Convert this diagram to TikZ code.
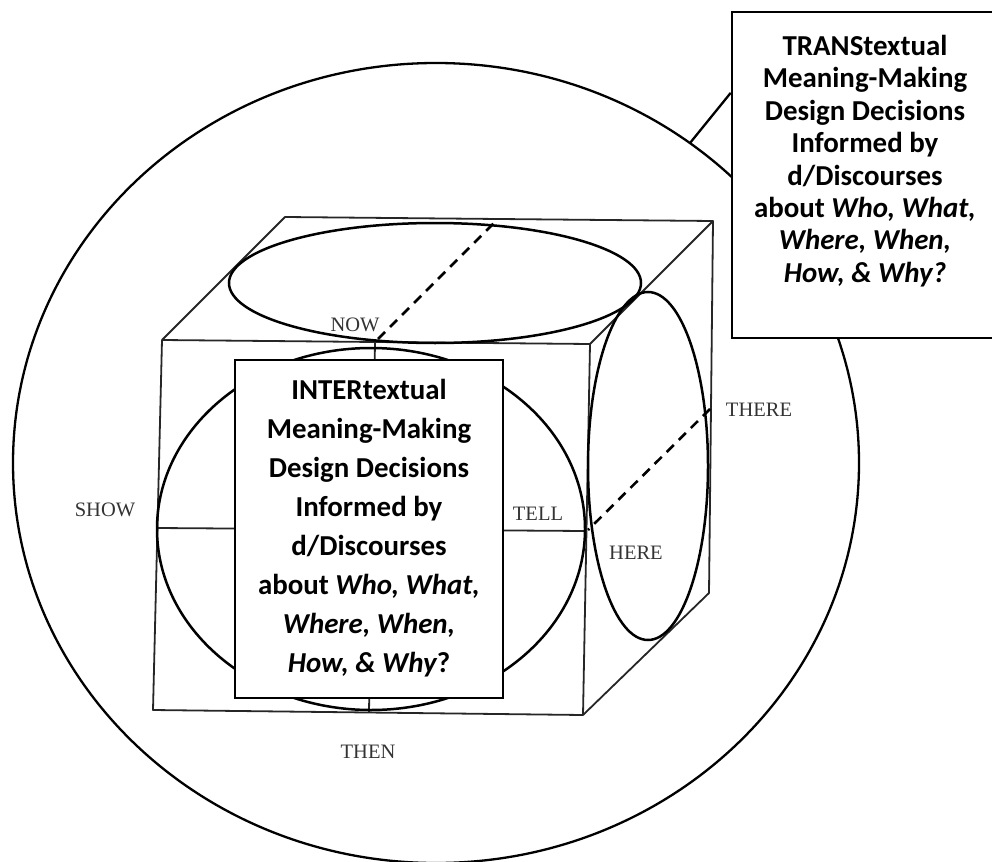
\documentclass[tikz,border=0pt]{standalone}
\usepackage{fontspec}
\setmainfont{Liberation Serif}
\newfontfamily\calfont{Carlito}
\usetikzlibrary{calc}
\begin{document}
\begin{tikzpicture}[x=1pt,y=-1pt,
  cubeline/.style={line width=1.8pt, draw=black!85, line join=round},
  ring/.style={line width=2.5pt},
  dashline/.style={line width=2.6pt, dash pattern=on 10pt off 7pt},
  dirlabel/.style={font=\fontsize{20.5}{24}\selectfont, text=black!80, inner sep=0pt},
  textbox/.style={draw, line width=2.6pt, fill=white, inner sep=0pt},
  boxtext/.style={font=\calfont\bfseries\fontsize{28.9}{32.4}\selectfont, align=center, inner sep=0pt}]
\useasboundingbox (0,0) rectangle (992,861);

% outer ring
\draw[line width=2.3pt] (436,463) ellipse [x radius=423pt, y radius=400pt];
\coordinate (cstart) at (690,143);

% cube corners
\coordinate (ftl) at (162,340);
\coordinate (ftr) at (590,344);
\coordinate (fbr) at (583,715);
\coordinate (fbl) at (153,710);
\coordinate (btl) at (285,217);
\coordinate (btr) at (713,221);
\coordinate (bbr) at (709,593);

\draw[cubeline] (ftl) -- (ftr) -- (fbr) -- (fbl) -- cycle;
\draw[cubeline] (ftl) -- (btl) -- (btr) -- (ftr);
\draw[cubeline] (btr) -- (bbr) -- (fbr);
% axes on the front face
\draw[cubeline] (157,528) -- (585,531);
\draw[cubeline] (375,342) -- (369,712);
% axes on the top and side faces
\draw[dashline] (378,339) -- (495,222);
\draw[dashline] (710,409) -- (588,530);

% face ellipses
\draw[ring] (435,283) ellipse [x radius=206pt, y radius=60pt];
\draw[ring] (371,529) ellipse [x radius=214pt, y radius=181pt];
\draw[ring] (648,466) ellipse [x radius=60pt, y radius=174pt];

% direction labels
\node[dirlabel] (now) at (355,325) {NOW};
\node[dirlabel] (then) at (368,752) {THEN};
\node[dirlabel] (show) at (105,510) {SHOW};
\node[dirlabel] (tell) at (538,514) {TELL};
\node[dirlabel] (here) at (636,553) {HERE};
\node[dirlabel] (there) at (759,410) {THERE};

% inner text box
\node[textbox, minimum width=268pt, minimum height=338pt] (ibox) at (369,529) {};
\node[boxtext, font=\calfont\bfseries\fontsize{28.9}{39}\selectfont] (itext) at (369,528)
  {INTERtextual\\Meaning-Making\\Design Decisions\\Informed by\\d/Discourses\\about {\itshape Who, What,}\\{\itshape Where, When,}\\{\itshape How, \& Why}?};

% outer text box
\node[textbox, minimum width=268pt, minimum height=326pt] (tbox) at (866,175) {};
\node[boxtext] (ttext) at (865,161)
  {TRANStextual\\Meaning-Making\\Design Decisions\\Informed by\\d/Discourses\\about {\itshape Who, What,}\\{\itshape Where, When,}\\{\itshape How, \& Why?}};

% callout from the ring to the outer box
\draw[line width=2.3pt] (cstart) -- ($(tbox.north west)!0.25!(tbox.south west)$);
\end{tikzpicture}
\end{document}
